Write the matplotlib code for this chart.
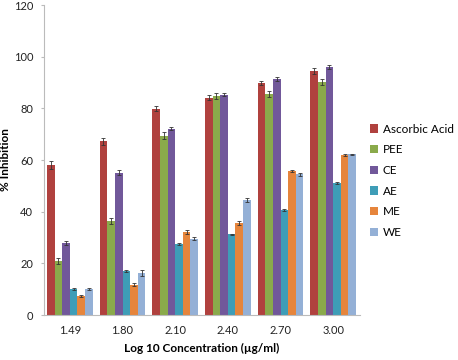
import matplotlib
matplotlib.use("Agg")
import matplotlib.pyplot as plt
import numpy as np

categories = ["1.49", "1.80", "2.10", "2.40", "2.70", "3.00"]
series_names = ["Ascorbic Acid", "PEE", "CE", "AE", "ME", "WE"]
ascorbic = [58.2, 67.2, 79.8, 84.2, 89.8, 94.5]
pee = [20.9, 36.5, 69.4, 84.8, 85.6, 90.3]
ce = [27.9, 55.1, 72.2, 85.3, 91.4, 95.9]
ae = [10.1, 17.1, 27.4, 31.2, 40.6, 51.2]
me = [7.3, 11.8, 32.0, 35.5, 55.8, 62.0]
we = [10.0, 16.3, 29.5, 44.5, 54.5, 62.2]
err_ascorbic = [1.5, 1.5, 1.0, 1.0, 0.8, 1.2]
err_pee = [1.0, 1.2, 1.3, 1.2, 1.3, 1.1]
err_ce = [0.8, 1.0, 0.6, 0.6, 0.8, 0.8]
err_ae = [0.3, 0.3, 0.3, 0.3, 0.3, 0.3]
err_me = [0.5, 0.4, 0.8, 0.8, 0.4, 0.3]
err_we = [0.3, 1.1, 0.6, 0.7, 0.6, 0.3]

values = [ascorbic, pee, ce, ae, me, we]
errors = [err_ascorbic, err_pee, err_ce, err_ae, err_me, err_we]
colors = ["#B0413E", "#8AAA4B", "#71589A", "#3E9DB7", "#E6853C", "#94B0D6"]

plt.rcParams['font.family'] = ['Lato', 'DejaVu Sans']

fig = plt.figure(figsize=(4.58, 3.6), dpi=100)
ax = fig.add_axes([0.095, 0.125, 0.69, 0.861])

x = np.arange(len(categories))
w = 0.145
for i, (vals, errs, c, name) in enumerate(zip(values, errors, colors, series_names)):
    ax.bar(x + (i - 2.5) * w, vals, w, color=c, label=name, zorder=2,
           yerr=errs, error_kw=dict(ecolor="#333333", elinewidth=0.6, capsize=1.5, capthick=0.6))

ax.set_xlim(-0.5, len(categories) - 0.5)
ax.set_ylim(0, 120)
ax.set_yticks(range(0, 121, 20))
ax.set_xticks(x)
ax.set_xticklabels(categories)
ax.tick_params(axis='both', labelsize=8, colors="#222222", length=0, pad=7)
ax.tick_params(axis='y', length=2.5, color="#BBBBBB", pad=5)
for s in ["top", "right"]:
    ax.spines[s].set_visible(False)
ax.spines["left"].set_color("#BBBBBB")
ax.spines["bottom"].set_color("#BBBBBB")
ax.set_xlabel("Log 10 Concentration (µg/ml)", fontsize=8.5, fontweight="bold", labelpad=5)
ax.set_ylabel("% Inhibition", fontsize=8.5, fontweight="bold", labelpad=2)

leg = ax.legend(loc="upper left", bbox_to_anchor=(1.01, 0.64), frameon=False,
                fontsize=8.5, handlelength=0.7, handleheight=0.7, labelspacing=0.82,
                handletextpad=0.4, borderaxespad=0.2)

fig.savefig("out.png", dpi=100)
